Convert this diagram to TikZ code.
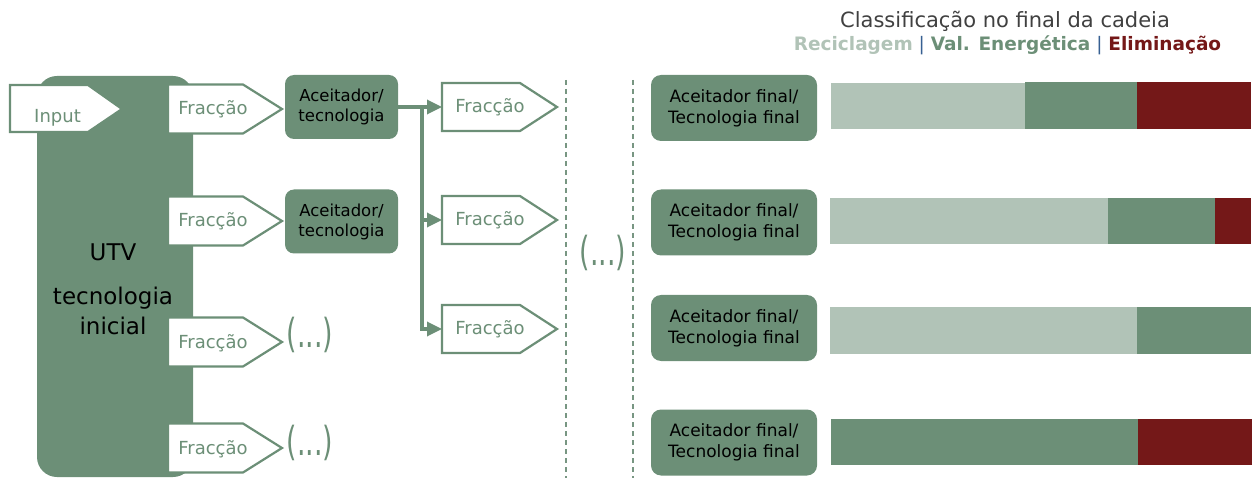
\documentclass[tikz,border=0pt]{standalone}
\usepackage{fontspec}
\setmainfont{DejaVu Sans}
\usetikzlibrary{arrows.meta}
\definecolor{gr}{RGB}{108,143,119}
\definecolor{lgr}{RGB}{177,195,183}
\definecolor{dred}{RGB}{116,24,24}
\definecolor{ttl}{RGB}{64,64,64}
\definecolor{sepc}{RGB}{55,96,146}
\definecolor{dashc}{RGB}{120,150,130}
\tikzset{
  frshape/.style={draw=gr, line width=2.2pt, fill=white, line join=miter},
  frtext/.style={text=gr, font=\fontsize{18}{20}\selectfont, inner sep=0pt},
  bigtext/.style={text=black, font=\fontsize{23}{26}\selectfont, inner sep=0pt},
  acbox/.style={fill=gr, rounded corners=9pt, minimum width=113pt, minimum height=64pt, align=center, font=\fontsize{16.5}{20}\selectfont, inner sep=0pt, text=black},
  finbox/.style={fill=gr, rounded corners=10pt, minimum width=166pt, minimum height=66pt, align=center, font=\fontsize{17}{21}\selectfont, inner sep=0pt, text=black},
  conn/.style={draw=gr, line width=3.3pt, -{Triangle[length=15pt,width=14pt]}},
  plainconn/.style={draw=gr, line width=3.3pt},
  dotstext/.style={text=gr, font=\fontsize{40}{42}\selectfont, xscale=0.67, inner sep=0pt},
  divider/.style={draw=dashc, line width=1.5pt, dash pattern=on 5pt off 4pt},
  utvbox/.style={fill=gr, rounded corners=20pt, minimum width=156pt, minimum height=401pt, inner sep=0pt},
}
\begin{document}
\begin{tikzpicture}[x=1pt,y=-1pt]
\useasboundingbox (0,0) rectangle (1258,478);
% UTV box
\node[utvbox] (utv) at (115,276.5) {};
\node[bigtext] (utvt) at (113,252) {UTV};
\node[bigtext] (utvt2) at (113,298) {tecnologia};
\node[bigtext] (utvt3) at (113,326) {inicial};
% Input
\path[frshape] (10,85) -- (88,85) -- (122,109) -- (88,132) -- (10,132) -- cycle;
\node[frtext] (inp) at (57.5,118) {Input};
% left column Fraccao shapes
\foreach \c/\t [count=\i] in {109/109, 221/221, 342/343, 448/449}{
  \path[frshape] (168,\c-24.5) -- (243,\c-24.5) -- (282,\c) -- (243,\c+24.5) -- (168,\c+24.5) -- cycle;
  \node[frtext] (fl\i) at (213,\t) {Fracção};
}
% Aceitador boxes
\node[acbox] (a1) at (341.5,107) {Aceitador/\\tecnologia};
\node[acbox] (a2) at (341.5,221.5) {Aceitador/\\tecnologia};
% (...) on left
\node[dotstext] (d3) at (310,335) {(...)};
\node[dotstext] (d4) at (310,443) {(...)};
% middle Fraccao shapes
\foreach \c [count=\i] in {107, 220, 329}{
  \path[frshape] (442,\c-24) -- (520,\c-24) -- (557,\c) -- (520,\c+24) -- (442,\c+24) -- cycle;
  \node[frtext] (fm\i) at (490,\c) {Fracção};
  \coordinate (m\i in) at (442,\c);
}
\coordinate (jn) at (422,107);
\draw[plainconn] (a1.east) -- (jn);
\draw[conn] (jn) -- (m1in);
\draw[conn] (jn) |- (m2in);
\draw[conn] (jn) |- (m3in);
% dividers
\coordinate (dv1t) at (566,80); \coordinate (dv1b) at (566,478);
\coordinate (dv2t) at (633,80); \coordinate (dv2b) at (633,478);
\draw[divider] (dv1t) -- (dv1b);
\draw[divider] (dv2t) -- (dv2b);
\node[dotstext] (dmid) at (603,253) {(...)};
% final boxes
\node[finbox] (f1) at (734,108) {Aceitador final/\\Tecnologia final};
\node[finbox] (f2) at (734,222.5) {Aceitador final/\\Tecnologia final};
\node[finbox] (f3) at (734,328) {Aceitador final/\\Tecnologia final};
\node[finbox] (f4) at (734,442.5) {Aceitador final/\\Tecnologia final};
% bars
\fill[lgr] (831,83) rectangle (1025,129);
\fill[gr] (1025,82) rectangle (1137,129);
\fill[dred] (1137,82) rectangle (1251,129);
\fill[lgr] (830,198) rectangle (1108,244);
\fill[gr] (1108,198) rectangle (1215,244);
\fill[dred] (1215,198) rectangle (1251,244);
\fill[lgr] (830,307) rectangle (1137,354);
\fill[gr] (1137,307) rectangle (1251,354);
\fill[gr] (831,419) rectangle (1138,465);
\fill[dred] (1138,419) rectangle (1252,465);
% title and legend
\node[text=ttl, font=\fontsize{21}{24}\selectfont, inner sep=0pt] (title) at (1005,21) {Classificação no final da cadeia};
\node[font=\fontsize{18.5}{22}\selectfont, inner sep=0pt] (legend) at (1007.5,45.5) {\textcolor{lgr}{\bfseries Reciclagem} \textcolor{sepc}{|} \textcolor{gr}{\bfseries Val. Energética} \textcolor{sepc}{|} \textcolor{dred}{\bfseries Eliminação}};
\end{tikzpicture}
\end{document}
